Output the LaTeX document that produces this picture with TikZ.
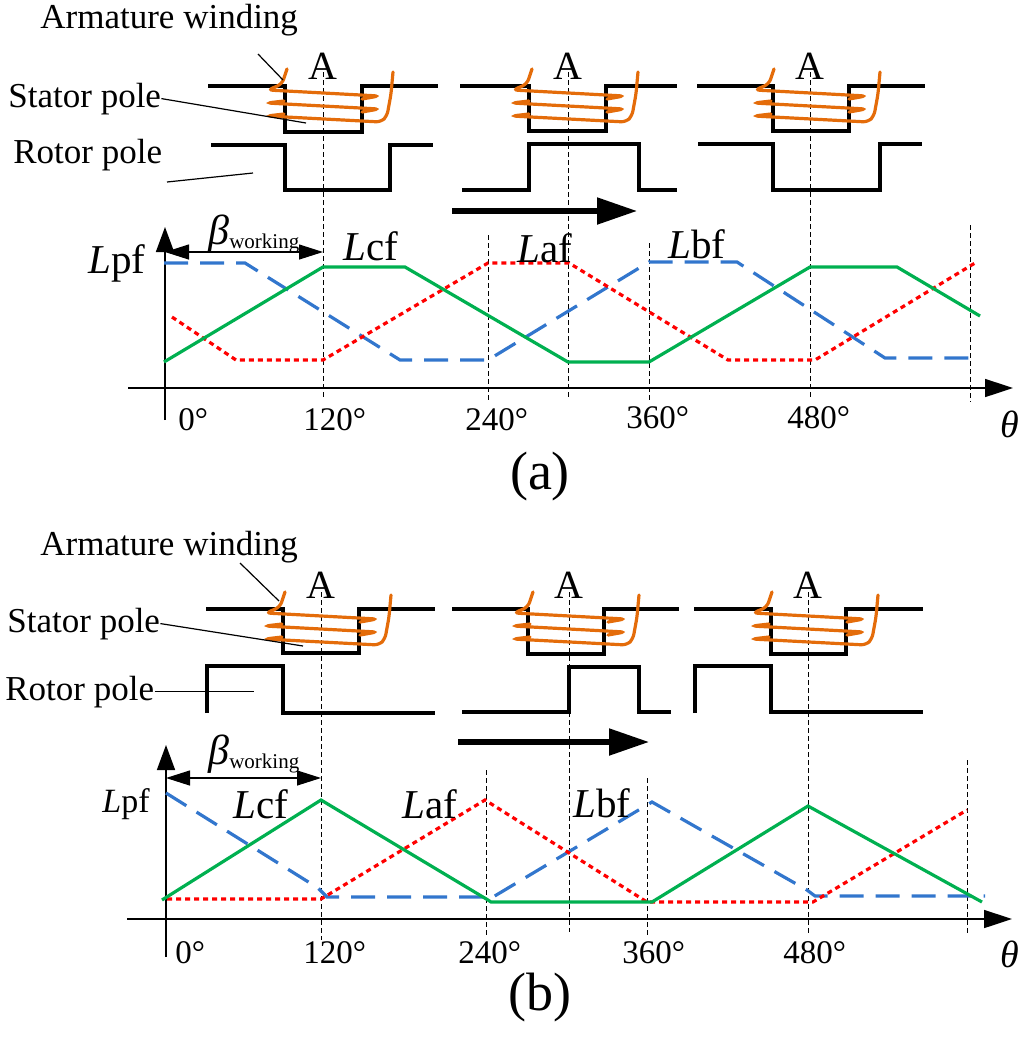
\documentclass[tikz,border=0pt]{standalone}
\usepackage{fontspec}
\setmainfont{Liberation Serif}
\usetikzlibrary{arrows.meta}
\definecolor{coilorange}{RGB}{228,108,10}
\definecolor{lgreen}{RGB}{0,176,80}
\definecolor{lblue}{RGB}{50,118,205}
\definecolor{lred}{RGB}{255,0,0}
\tikzset{pole/.style={line width=1.6pt},
    guide/.style={line width=0.5pt,dash pattern=on 2.5pt off 1.5pt},
    leader/.style={line width=0.6pt},
    axisline/.style={line width=0.8pt},
    workarr/.style={{Triangle[length=12pt,width=7.5pt]}-{Triangle[length=12pt,width=7.5pt]}},
    motion/.style={line width=2.6pt,-{Triangle[length=20pt,width=13pt]}},
    coilline/.style={coilorange,line width=1.6pt,rounded corners=2.5pt,line cap=round},
    lcf/.style={lgreen,line width=1.6pt},
    laf/.style={lred,line width=1.6pt,dash pattern=on 2.5pt off 2pt},
    lbf/.style={lblue,line width=1.6pt,dash pattern=on 12pt off 6pt},
    txt/.style={anchor=base west,inner sep=0pt,font=\fontsize{17.5}{21}\selectfont},
    deglbl/.style={anchor=base west,inner sep=0pt,font=\fontsize{16.5}{20}\selectfont},
    indlbl/.style={anchor=base west,inner sep=0pt,font=\fontsize{20.5}{24}\selectfont},
    phaselbl/.style={anchor=base,inner sep=0pt,font=\fontsize{20}{24}\selectfont},
    winding/.pic={
        \draw[coilline] (-36,-17) -- (-41,-2) -- (-55,4) -- (56,10) -- (39,13);
        \draw[coilline] (-39,15) -- (-56,17) -- (56,23) -- (39,26);
        \draw[coilline] (-39,28) -- (-56,30) -- (58,36) -- (64,30) -- (68,8) -- (70,-14);}}
\newcommand{\Lind}[1]{\textit{L}#1}
\newcommand{\betaw}{{\fontsize{21}{24}\selectfont\textit{β}}\raisebox{-2pt}{\fontsize{10.5}{12}\selectfont working}}

\begin{document}
\begin{tikzpicture}[x=0.5pt,y=-0.5pt]
\useasboundingbox (0,0) rectangle (1024,1040);
% (a)
\node[txt] (arma) at (40,28) {Armature winding};
\node[txt] (stata) at (8,107) {Stator pole};
\node[txt] (rota) at (13,163) {Rotor pole};
\node[phaselbl] (Aa1) at (323,79) {A};
\node[phaselbl] (Aa2) at (568,79) {A};
\node[phaselbl] (Aa3) at (810,79) {A};
\draw[guide] (323,72) -- (323,398);
\draw[guide] (488,235) -- (488,400);
\draw[guide] (568,72) -- (568,400);
\draw[guide] (649,243) -- (649,400);
\draw[guide] (810,72) -- (810,400);
\draw[guide] (970,225) -- (970,402);
\draw[pole] (208,86) -- (285,86) -- (285,132) -- (362,132) -- (362,86) -- (438,86);
\draw[pole] (460,86) -- (529,86) -- (529,131) -- (606,131) -- (606,86) -- (677,86);
\draw[pole] (697,86) -- (773,86) -- (773,131) -- (849,131) -- (849,86) -- (925,86);
\draw[pole] (211,145) -- (285,145) -- (285,190) -- (390,190) -- (390,145) -- (433,145);
\draw[pole] (462,190) -- (529,190) -- (529,144) -- (639,144) -- (639,190) -- (677,190);
\draw[pole] (698,144) -- (773,144) -- (773,190) -- (880,190) -- (880,144) -- (922,144);
\foreach \cx in {323,568,810}
    \pic at (\cx,86) {winding};
\coordinate (wa) at (258,54);
\coordinate (wa') at (283,80);
\coordinate (sa') at (306,123);
\coordinate (ra) at (167,182);
\coordinate (ra') at (253,173);
\draw[leader] (wa) -- (wa');
\draw[leader] (stata.east) -- (sa');
\draw[leader] (ra) -- (ra');
\draw[motion] (452,211) -- (637,211);
\draw[axisline,-{Triangle[length=14pt,width=9pt]}] (128,388) -- (1013,388);
\draw[axisline,-{Triangle[length=12.5pt,width=9pt]}] (165,420) -- (165,227);
\draw[leader,workarr] (165,252) -- (323,252);
\node[txt] (betaa) at (208,244) {\betaw};
\draw[lbf] (164,263) -- (245,263) -- (400,360) -- (488,360) -- (649,262) -- (737,262) -- (885,358) -- (970,358);
\draw[laf] (172,317) -- (236,360) -- (323,360) -- (488,263) -- (569,263) -- (728,360) -- (815,360) -- (975,263);
\draw[lcf] (164,362) -- (323,267) -- (405,267) -- (568,362) -- (649,362) -- (810,267) -- (897,267) -- (980,316);
\node[indlbl] (lpfa) at (88,273) {\Lind{pf}};
\node[indlbl] (lcfa) at (343,260) {\Lind{cf}};
\node[indlbl] (lafa) at (517,262) {\Lind{af}};
\node[indlbl] (lbfa) at (668,258) {\Lind{bf}};
\node[deglbl] (d0a) at (178,430) {0°};
\node[deglbl] (d120a) at (303,430) {120°};
\node[deglbl] (d240a) at (465,430) {240°};
\node[deglbl] (d360a) at (626,428) {360°};
\node[deglbl] (d480a) at (787,428) {480°};
\node[indlbl,font=\fontsize{19}{22}\selectfont] (tha) at (1000,437) {\textit{θ}};
\node[font=\fontsize{27}{32}\selectfont] (capa) at (540,477) {(a)};
% (b)
\node[txt] (armb) at (40,555) {Armature winding};
\node[txt] (statb) at (7,632) {Stator pole};
\node[txt] (rotb) at (5,700) {Rotor pole};
\node[phaselbl] (Ab1) at (321,598) {A};
\node[phaselbl] (Ab2) at (569,598) {A};
\node[phaselbl] (Ab3) at (808,598) {A};
\draw[guide] (321,592) -- (321,940);
\draw[guide] (486,770) -- (486,937);
\draw[guide] (569,592) -- (569,932);
\draw[guide] (647,778) -- (647,935);
\draw[guide] (808,592) -- (808,933);
\draw[guide] (967,760) -- (967,935);
\draw[pole] (206,609) -- (283,609) -- (283,653) -- (359,653) -- (359,609) -- (435,609);
\draw[pole] (452,609) -- (528,609) -- (528,654) -- (604,654) -- (604,609) -- (679,609);
\draw[pole] (694,609) -- (771,609) -- (771,654) -- (846,654) -- (846,609) -- (923,609);
\draw[pole] (207,713) -- (207,666) -- (283,666) -- (283,713) -- (435,713);
\draw[pole] (462,712) -- (569,712) -- (569,667) -- (639,667) -- (639,712) -- (671,712);
\draw[pole] (695,713) -- (695,666) -- (771,666) -- (771,712) -- (923,712);
\foreach \cx in {321,569,808}
    \pic at (\cx,609) {winding};
\coordinate (wb) at (240,563);
\coordinate (wb') at (279,601);
\coordinate (sb') at (303,646);
\draw[leader] (wb) -- (wb');
\draw[leader] (statb.east) -- (sb');
\draw[leader] (rotb.east) -- ++(99,0);
\draw[motion] (458,742) -- (649,742);
\draw[axisline,-{Triangle[length=14pt,width=9pt]}] (127,919) -- (1012,919);
\draw[axisline,-{Triangle[length=12.5pt,width=9pt]}] (166,957) -- (166,745);
\draw[leader,workarr] (166,778) -- (321,778);
\node[txt] (betab) at (208,764) {\betaw};
\draw[lbf] (166,793) -- (318,888) -- (327,897) -- (493,897) -- (652,802) -- (807,890) -- (815,896) -- (985,896);
\draw[laf] (167,899) -- (321,899) -- (485,800) -- (647,902) -- (813,902) -- (967,810);
\draw[lcf] (162,900) -- (321,800) -- (488,900) -- (491,902) -- (652,902) -- (808,806) -- (982,902);
\node[indlbl,font=\fontsize{17}{20}\selectfont] (lpfb) at (102,812) {\Lind{pf}};
\node[indlbl] (lcfb) at (233,818) {\Lind{cf}};
\node[indlbl] (lafb) at (402,818) {\Lind{af}};
\node[indlbl] (lbfb) at (573,817) {\Lind{bf}};
\node[deglbl] (d0b) at (175,963) {0°};
\node[deglbl] (d120b) at (303,963) {120°};
\node[deglbl] (d240b) at (458,963) {240°};
\node[deglbl] (d360b) at (622,963) {360°};
\node[deglbl] (d480b) at (783,963) {480°};
\node[indlbl,font=\fontsize{19}{22}\selectfont] (thb) at (1000,967) {\textit{θ}};
\node[font=\fontsize{27}{32}\selectfont] (capb) at (540,997) {(b)};
\end{tikzpicture}
\end{document}
